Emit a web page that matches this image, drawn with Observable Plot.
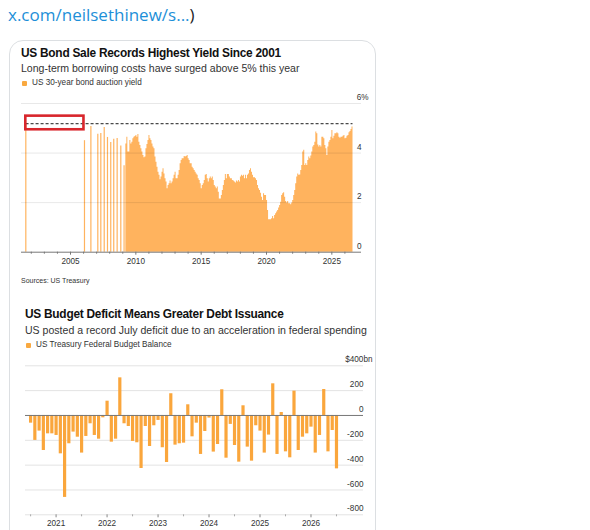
<!DOCTYPE html>
<html><head><meta charset="utf-8">
<script src="https://cdn.jsdelivr.net/npm/d3@7"></script>
<script src="https://cdn.jsdelivr.net/npm/@observablehq/plot@0.6"></script>
<style>
html,body{margin:0;padding:0;background:#fff;width:590px;height:530px;overflow:hidden;font-family:"Liberation Sans",Arial,sans-serif;}
#page{position:relative;width:590px;height:530px;overflow:hidden;}
#page>div{position:absolute;white-space:nowrap;}
#card{left:9px;top:40px;width:365px;height:560px;border:1px solid #dcdfe2;border-radius:14px;}
.t{font-weight:700;font-size:11.9px;letter-spacing:-0.26px;color:#111;line-height:14px;}
.s{font-size:10.55px;color:#333;line-height:14px;}
.l{font-size:8.2px;color:#333;line-height:10px;}
.m{width:5px;height:5px;background:#f9a940;border-radius:1px;}
#chartA,#chartB{width:590px;height:180px;}
svg{display:block;overflow:visible;}
</style></head>
<body><div id="page">
<div style="left:8px;top:5px;font-family:'Open Sans',sans-serif;font-size:17px;line-height:20px;color:#1d8fd8">x.com/neilsethinew/s...<span style="color:#222">)</span></div>
<div id="card"></div>
<div class="t" style="left:21px;top:46px">US Bond Sale Records Highest Yield Since 2001</div>
<div class="s" style="left:21px;top:61px">Long-term borrowing costs have surged above 5% this year</div>
<div class="m" style="left:22px;top:81px"></div>
<div class="l" style="left:32px;top:78px">US 30-year bond auction yield</div>
<div class="l" style="left:21px;top:276px;font-size:7px">Sources: US Treasury</div>
<div class="t" style="left:25px;top:307px">US Budget Deficit Means Greater Debt Issuance</div>
<div class="s" style="left:25px;top:323px">US posted a record July deficit due to an acceleration in federal spending</div>
<div class="m" style="left:26px;top:343px"></div>
<div class="l" style="left:36px;top:340px">US Treasury Federal Budget Balance</div>
<div id="chartA" style="left:0;top:90px"></div>
<div id="chartB" style="left:0;top:350px"></div>
</div>
<script>
// Chart 1: 30-year auction yield
const spikeYears = [2001.58,2006.07,2006.56,2007.09,2007.32,2007.58,2007.83,2008.08,2008.31,2008.57,2008.85,2009.1];
const spikeValues = [5.19,4.5,5.07,4.76,4.79,5.03,4.63,4.43,4.56,4.59,4.29,3.49];
const yieldStart = 2009.235;
const yieldValues = [
4.37,4.64,4.04,4.04,4.51,4.37,4.44,4.58,4.64,4.67,4.71,4.64,4.75,4.44,4.31,4.17,4.04,3.90,3.81,3.84,4.17,4.35,4.51,4.71,4.58,4.51,4.37,4.24,4.17,3.84,3.63,3.43,3.23,3.10,2.92,3.03,3.23,3.37,3.16,2.96,2.83,2.56,2.69,2.76,2.87,2.76,2.83,2.96,3.10,3.23,2.96,2.96,3.10,3.30,3.57,3.70,3.77,3.77,3.86,3.84,3.86,3.90,3.77,3.70,3.57,3.57,3.43,3.37,3.30,3.23,3.16,3.10,2.96,2.89,2.76,
2.56,2.69,2.76,2.89,3.10,3.14,2.96,2.83,2.96,3.03,2.96,3.03,2.89,2.69,2.63,2.56,2.63,2.42,2.15,2.15,2.29,2.49,2.69,2.89,3.14,2.96,3.14,3.14,3.03,2.96,2.96,2.89,2.87,2.83,2.79,2.87,2.83,2.89,2.83,3.03,3.10,3.06,3.10,2.96,3.10,2.96,3.10,3.16,3.30,3.37,3.23,3.10,3.00,3.00,2.96,2.89,2.69,2.56,2.49,2.38,2.22,2.09,2.36,2.29,2.29,2.09,1.68,1.31,1.31,1.31,1.35,1.44,1.35,1.48,1.55,
1.62,1.68,1.78,1.88,2.02,2.29,2.36,2.40,2.22,2.05,1.99,2.05,1.95,1.95,1.91,1.99,2.09,2.29,2.49,2.76,3.03,3.16,3.10,3.12,3.30,3.50,4.04,4.11,3.50,3.57,3.50,3.70,3.84,3.77,3.88,4.04,4.24,4.31,4.44,4.85,4.78,4.33,4.24,4.31,4.24,4.64,4.64,4.58,4.31,4.17,3.90,4.24,4.44,4.51,4.64,4.91,4.58,4.68,4.78,4.78,4.82,4.78,4.64,4.60,4.64,4.64,4.68,4.71,4.58,4.60,4.68,4.71,4.82,4.87,4.95,5.05,5.11];
const yieldYears = yieldValues.map((_, i) => yieldStart + i / 13);
const yieldTicks = [0, 2, 4, 6];
const yieldLabels = ["0", "2", "4", "6%"];
const yieldDomainX = [2001.25, 2027.27];
const yearMajor1 = [2005, 2010, 2015, 2020, 2025];
const yearMinor1 = [2002,2003,2004,2006,2007,2008,2009,2011,2012,2013,2014,2016,2017,2018,2019,2021,2022,2023,2024,2026];
const peakLevel = 5.19;
const peakSpan = [2001.6, 2026.62];
const highlightX = [2001.58, 2006.03];
const highlightY = [4.94, 5.49];

// Chart 2: monthly budget balance from Jul 2020
const balanceStart = 2020.5;
const balanceValues = [
-62,-201,-126,-282,-148,-148,-161,-309,-660,-228,-134,-175,-303,-169,-67,-161,-191,-19,115,-215,-191,303,-67,-89,-209,-220,-427,-89,-250,-83,-40,-260,-379,175,-239,-228,-223,86,-172,-62,
-314,-129,-21,-295,-234,207,-344,-72,-242,-376,78,-255,-368,-83,-126,-303,-158,255,-314,24,-293,-341,196,-282,-175,-148,-94,-303,-161,209,-293,-121,-430];
const balanceMonths = balanceValues.map((_, i) => balanceStart + i / 12);
const balanceTicks = [400, 200, -200, -400, -600, -800];
const balanceLabelTicks = [400, 200, 0, -200, -400, -600, -800];
const balanceLabels = ["$400bn", "200", "0", "-200", "-400", "-600", "-800"];
const balanceDomainX = [2020.4, 2027.03];
const yearMajor2 = [2021, 2022, 2023, 2024, 2025, 2026];
const yearMinor2 = [2020.5, 2021.5, 2022.5, 2023.5, 2024.5, 2025.5, 2026.5];

const FONT = "Liberation Sans, Arial, sans-serif";
const yieldRows = yieldValues.map((v, i) => ({year: yieldYears[i], v}));
const spikeRows = spikeValues.map((v, i) => ({year: spikeYears[i], v}));
const yieldLabelRows = yieldTicks.map((v, i) => ({v, label: yieldLabels[i]}));

const plotA = Plot.plot({
  width: 590, height: 180,
  marginLeft: 21, marginRight: 229, marginTop: 13, marginBottom: 18.3,
  style: {background: "transparent", fontFamily: FONT},
  x: {domain: yieldDomainX, axis: null},
  y: {domain: [0, 6], axis: null},
  marks: [
    Plot.areaY(yieldRows, {x: "year", y: "v", curve: "step-after", fill: "#ffb35e"}),
    Plot.ruleX(spikeRows, {x: "year", y1: 0, y2: "v", stroke: "#ffb35e", strokeWidth: 1.2}),
    Plot.ruleY(yieldTicks.slice(1), {stroke: "#000", strokeOpacity: 0.09, strokeWidth: 1}),
    Plot.ruleY([0], {stroke: "#777", strokeWidth: 1}),
    Plot.axisX(yearMajor1, {anchor: "bottom", tickSize: 3, tickPadding: 2.5, tickFormat: d => String(d), fontSize: 8.2, stroke: "#777", fill: "#333", label: null}),
    Plot.axisX(yearMinor1, {anchor: "bottom", tickSize: 2, tickFormat: () => "", stroke: "#777", label: null}),
    Plot.ruleY([peakLevel], {x1: peakSpan[0], x2: peakSpan[1], stroke: "#4a4a4a", strokeWidth: 1.3, strokeDasharray: "3,2"}),
    Plot.rect([{}], {x1: () => highlightX[0], x2: () => highlightX[1], y1: () => highlightY[0], y2: () => highlightY[1], fill: "none", stroke: "#d8262c", strokeWidth: 2.6}),
    Plot.text(yieldLabelRows.slice(0, 3), {x: () => yieldDomainX[1], y: "v", text: "label", textAnchor: "end", dy: -6, fontSize: 8.2, fill: "#333"}),
    Plot.text(yieldLabelRows.slice(3), {x: () => yieldDomainX[1], y: "v", text: "label", textAnchor: "end", dx: 7, dy: -6, fontSize: 8.2, fill: "#333"})
  ]
});
document.getElementById("chartA").append(plotA);

const balanceRows = balanceValues.map((v, i) => ({t: balanceMonths[i], v}));
const balanceLabelRows = balanceLabelTicks.map((v, i) => ({v, label: balanceLabels[i]}));
const plotB = Plot.plot({
  width: 590, height: 180,
  marginLeft: 25, marginRight: 227, marginTop: 15.3, marginBottom: 15.7,
  style: {background: "transparent", fontFamily: FONT},
  x: {domain: balanceDomainX, axis: null},
  y: {domain: [-800, 400], axis: null},
  marks: [
    Plot.ruleY(balanceTicks, {stroke: "#e3e3e3", strokeWidth: 1}),
    Plot.ruleX(balanceRows, {x: "t", y1: 0, y2: "v", stroke: "#faa63c", strokeWidth: 3.2}),
    Plot.ruleY([0], {stroke: "#777", strokeWidth: 1}),
    Plot.axisX(yearMajor2, {anchor: "bottom", tickSize: 3, tickPadding: 2.5, tickFormat: d => String(d), fontSize: 8.2, stroke: "#888", fill: "#333", label: null}),
    Plot.axisX(yearMinor2, {anchor: "bottom", tickSize: 2, tickFormat: () => "", stroke: "#aaa", label: null}),
    Plot.text(balanceLabelRows.slice(1), {x: () => balanceDomainX[1], y: "v", text: "label", textAnchor: "end", dy: -6, fontSize: 8.2, fill: "#333"}),
    Plot.text(balanceLabelRows.slice(0, 1), {x: () => balanceDomainX[1], y: "v", text: "label", textAnchor: "end", dx: 9, dy: -6, fontSize: 8.2, fill: "#333"})
  ]
});
document.getElementById("chartB").append(plotB);
</script>
</body></html>
